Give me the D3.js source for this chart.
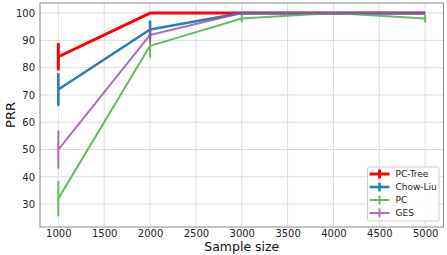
<!DOCTYPE html>
<html>
<head>
<meta charset="utf-8">
<script src="https://cdn.jsdelivr.net/npm/d3@7"></script>
<style>
  body { margin: 0; background: #fff; }
  svg { display: block; font-family: "DejaVu Sans", sans-serif; }
</style>
</head>
<body>
<svg id="chart" width="447" height="255"></svg>
<script>
// sample sizes on the x axis
const sampleSizes = [1000, 2000, 3000, 4000, 5000];
const xTicks = [1000, 1500, 2000, 2500, 3000, 3500, 4000, 4500, 5000];
const yTicks = [30, 40, 50, 60, 70, 80, 90, 100];

// mean PRR and error half-widths per method
const pcTree = [84, 100, 100, 100, 100];
const pcTreeErr = [5, 0, 0, 0, 0];
const chowLiu = [72, 94, 100, 100, 100];
const chowLiuErr = [6, 3.3, 0, 0, 0];
const pcAlg = [32, 88, 98, 100, 98];
const pcAlgErr = [6.5, 4.3, 1.4, 0, 1.4];
const ges = [50, 92, 100, 100, 100];
const gesErr = [7, 3, 0, 0, 0];

const series = [
  { name: "PC-Tree", values: pcTree, err: pcTreeErr, color: "#ff0000", width: 3, opacity: 1 },
  { name: "Chow-Liu", values: chowLiu, err: chowLiuErr, color: "#1f77b4", width: 2.6, opacity: 0.95 },
  { name: "PC", values: pcAlg, err: pcAlgErr, color: "#4daf4a", width: 2, opacity: 0.85 },
  { name: "GES", values: ges, err: gesErr, color: "#984ea3", width: 2, opacity: 0.8 }
];

const svg = d3.select("#chart");
const margin = { left: 40, right: 3.5, top: 3, bottom: 28 };
const W = 447, H = 255;

const x = d3.scaleLinear().domain([800, 5200]).range([margin.left, W - margin.right]);
const y = d3.scaleLinear().domain([21.6, 103.7]).range([H - margin.bottom, margin.top]);

// grid
const grid = svg.append("g").attr("stroke", "#dcdcdc").attr("stroke-width", 1);
xTicks.forEach(t => grid.append("line")
  .attr("x1", x(t)).attr("x2", x(t)).attr("y1", y.range()[1]).attr("y2", y.range()[0]));
yTicks.forEach(t => grid.append("line")
  .attr("x1", x.range()[0]).attr("x2", x.range()[1]).attr("y1", y(t)).attr("y2", y(t)));

// axes
const xAxis = svg.append("g")
  .attr("transform", `translate(0,${y.range()[0]})`)
  .call(d3.axisBottom(x).tickValues(xTicks).tickSize(0).tickPadding(3).tickFormat(d3.format("d")));
const yAxis = svg.append("g")
  .attr("transform", `translate(${x.range()[0]},0)`)
  .call(d3.axisLeft(y).tickValues(yTicks).tickSize(0).tickPadding(5));
[xAxis, yAxis].forEach(a => {
  a.select(".domain").remove();
  a.selectAll("text").attr("font-family", "DejaVu Sans").attr("font-size", 10).attr("fill", "#222");
});

// frame
svg.append("rect")
  .attr("x", x.range()[0]).attr("y", y.range()[1])
  .attr("width", x.range()[1] - x.range()[0]).attr("height", y.range()[0] - y.range()[1])
  .attr("fill", "none").attr("stroke", "#888").attr("stroke-width", 1);

// lines + error bars
const line = d3.line().x((d, i) => x(sampleSizes[i])).y(d => y(d));
series.forEach(s => {
  const g = svg.append("g").attr("opacity", s.opacity);
  g.append("path").datum(s.values)
    .attr("d", line).attr("fill", "none")
    .attr("stroke", s.color).attr("stroke-width", s.width)
    .attr("stroke-linejoin", "round");
  g.selectAll("line.err").data(s.values).join("line")
    .attr("class", "err")
    .attr("x1", (d, i) => x(sampleSizes[i])).attr("x2", (d, i) => x(sampleSizes[i]))
    .attr("y1", (d, i) => y(d - s.err[i])).attr("y2", (d, i) => y(d + s.err[i]))
    .attr("stroke", s.color).attr("stroke-width", s.width);
});

// axis titles
svg.append("text")
  .attr("x", (x.range()[0] + x.range()[1]) / 2).attr("y", 251)
  .attr("text-anchor", "middle").attr("font-size", 12.5).attr("fill", "#111")
  .text("Sample size");
svg.append("text")
  .attr("transform", `translate(15,${(y.range()[0] + y.range()[1]) / 2}) rotate(-90)`)
  .attr("text-anchor", "middle").attr("font-size", 13).attr("fill", "#111")
  .text("PRR");

// legend
const legend = svg.append("g").attr("transform", "translate(367.5,167)");
legend.append("rect")
  .attr("width", 71.5).attr("height", 54).attr("rx", 2)
  .attr("fill", "#fff").attr("fill-opacity", 0.85)
  .attr("stroke", "#ccc").attr("stroke-width", 1);
series.forEach((s, i) => {
  const row = legend.append("g")
    .attr("transform", `translate(0,${7 + i * 13})`)
    .attr("opacity", s.opacity);
  row.append("line").attr("x1", 2).attr("x2", 22).attr("y1", 0).attr("y2", 0)
    .attr("stroke", s.color).attr("stroke-width", s.width);
  row.append("line").attr("x1", 12).attr("x2", 12).attr("y1", -4.5).attr("y2", 4.5)
    .attr("stroke", s.color).attr("stroke-width", s.width);
  legend.append("text")
    .attr("x", 28).attr("y", 7 + i * 13).attr("dy", "0.35em")
    .attr("font-size", 9).attr("fill", "#222")
    .text(s.name);
});
</script>
</body>
</html>
